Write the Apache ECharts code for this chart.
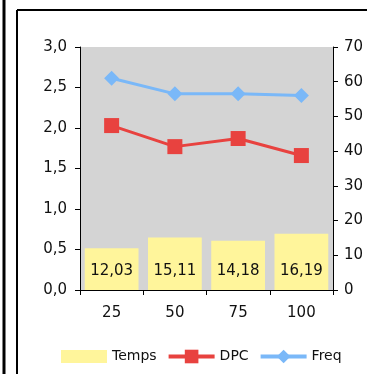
<!DOCTYPE html>
<html>
<head>
<meta charset="utf-8">
<script src="https://cdn.jsdelivr.net/npm/echarts@6/dist/echarts.min.js"></script>
<style>
html,body{margin:0;padding:0;background:#fff;}
#chart{width:367px;height:374px;}
</style>
</head>
<body>
<div id="chart"></div>
<script>
const categories = ['25', '50', '75', '100'];
const tempsValues = [12.03, 15.11, 14.18, 16.19];
const dpcValues = [2.03, 1.77, 1.87, 1.66];
const freqValues = [61.0, 56.5, 56.5, 56.0];
const leftTicks = { min: 0, max: 3, interval: 0.5 };
const rightTicks = { min: 0, max: 70, interval: 10 };

const FONT = 'DejaVu Sans';
const chart = echarts.init(document.getElementById('chart'), null, { renderer: 'canvas' });
const comma = (v, d) => Number(v).toFixed(d).replace('.', ',');

chart.setOption({
  animation: false,
  backgroundColor: '#ffffff',
  textStyle: { fontFamily: FONT },
  graphic: [
    { type: 'line', shape: { x1: 4, y1: 0, x2: 4, y2: 374 }, style: { stroke: '#000', lineWidth: 3 } },
    { type: 'line', shape: { x1: 17, y1: 10, x2: 17, y2: 374 }, style: { stroke: '#000', lineWidth: 2 } },
    { type: 'line', shape: { x1: 17, y1: 10, x2: 367, y2: 10 }, style: { stroke: '#000', lineWidth: 2 } }
  ],
  grid: {
    left: 80, right: 34, top: 47, bottom: 84,
    show: true, backgroundColor: '#d4d4d4', borderWidth: 0
  },
  legend: {
    left: 61, top: 348, padding: 0,
    itemWidth: 46, itemHeight: 17, itemGap: 10,
    textStyle: { fontFamily: FONT, fontSize: 14, color: '#111' },
    data: [
      { name: 'Temps', icon: 'path://M0,0h0.01M0,2h46v13h-46zM0,17h0.01' },
      { name: 'DPC', lineStyle: { width: 4 } },
      { name: 'Freq', lineStyle: { width: 4 } }
    ]
  },
  xAxis: {
    type: 'category',
    data: categories,
    axisLine: { lineStyle: { color: '#000', width: 1 } },
    axisTick: { show: true, length: 5, lineStyle: { color: '#000' } },
    axisLabel: { color: '#111', fontFamily: FONT, fontSize: 15, margin: 16 }
  },
  yAxis: [
    {
      type: 'value', position: 'left',
      min: leftTicks.min, max: leftTicks.max, interval: leftTicks.interval,
      axisLine: { show: true, lineStyle: { color: '#000', width: 1 } },
      axisTick: { show: true, length: 5, lineStyle: { color: '#000' } },
      splitLine: { show: false },
      axisLabel: { color: '#111', fontFamily: FONT, fontSize: 15, margin: 13, formatter: v => comma(v, 1) }
    },
    {
      type: 'value', position: 'right',
      min: rightTicks.min, max: rightTicks.max, interval: rightTicks.interval,
      axisLine: { show: true, lineStyle: { color: '#000', width: 1 } },
      axisTick: { show: true, length: 5, lineStyle: { color: '#000' } },
      splitLine: { show: false },
      axisLabel: { color: '#111', fontFamily: FONT, fontSize: 15, margin: 11 }
    }
  ],
  series: [
    {
      name: 'Temps', type: 'bar', yAxisIndex: 1,
      data: tempsValues,
      barCategoryGap: '15%',
      itemStyle: { color: '#fff59b' },
      label: {
        show: true, position: 'insideBottom', distance: 11,
        color: '#111', fontFamily: FONT, fontSize: 15,
        formatter: p => comma(p.value, 2)
      },
      z: 1
    },
    {
      name: 'DPC', type: 'line', yAxisIndex: 0,
      data: dpcValues,
      symbol: 'rect', symbolSize: 15,
      lineStyle: { color: '#e8423f', width: 3 },
      itemStyle: { color: '#e8423f' },
      z: 3
    },
    {
      name: 'Freq', type: 'line', yAxisIndex: 1,
      data: freqValues,
      symbol: 'diamond', symbolSize: 15,
      lineStyle: { color: '#7ab8f8', width: 3 },
      itemStyle: { color: '#7ab8f8' },
      z: 3
    }
  ]
});
</script>
</body>
</html>
